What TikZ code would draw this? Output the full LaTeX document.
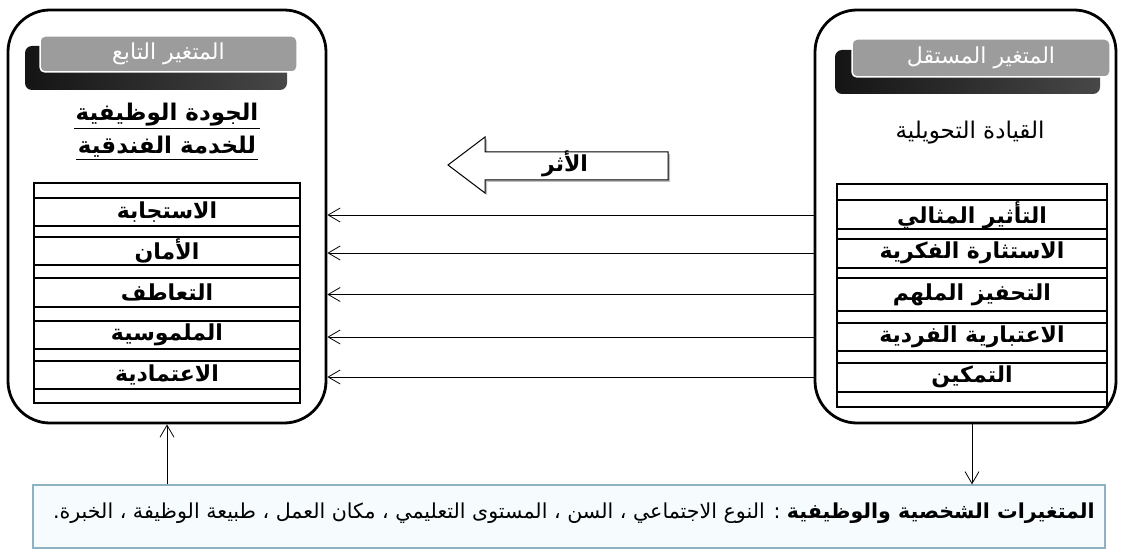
\documentclass[tikz,border=0pt]{standalone}
\usepackage{fontspec}
\usetikzlibrary{arrows.meta,calc}
\TeXXeTstate=1
\newfontfamily\arabicfont[Script=Arabic]{DejaVu Sans}
\definecolor{hdrgray}{HTML}{9C9C9C}
\definecolor{botedge}{HTML}{8FB2C2}
\definecolor{botfill}{HTML}{F6FBFD}
\begin{document}
\begin{tikzpicture}[x=1pt,y=-1pt,
  outerbox/.style={draw=black, line width=2.8pt, rounded corners=42pt, inner sep=0pt},
  hdrshadow/.style={left color=black!92, right color=black!72, rounded corners=7pt},
  hdrbox/.style={fill=hdrgray, draw=white, line width=1.5pt, rounded corners=5pt, inner sep=0pt, text=white, font=\arabicfont\fontsize{22}{26}\selectfont},
  tableframe/.style={draw=black, line width=2.6pt, inner sep=0pt},
  rowline/.style={draw=black, line width=1.1pt},
  rowtext/.style={inner sep=0pt, font=\arabicfont\bfseries\fontsize{22}{26}\selectfont},
  titletext/.style={inner sep=1.5pt, font=\arabicfont\bfseries\fontsize{23}{27}\selectfont},
  plaintitle/.style={inner sep=1.5pt, font=\arabicfont\fontsize{23}{27}\selectfont},
  link/.style={draw=black, line width=0.8pt, -{Straight Barb[length=12pt,width=14pt,line width=0.8pt]}},
  bigarrow/.style={draw=black, fill=white, line width=1pt},
  botbox/.style={draw=botedge, fill=botfill, line width=1.3pt, inner sep=0pt},
  bottext/.style={inner sep=0pt, font=\arabicfont\fontsize{20.6}{24}\selectfont}
]
\useasboundingbox (0,0) rectangle (1123,553);

% outer boxes
\node[outerbox, minimum width=318pt, minimum height=413pt] (L) at (167,216.5) {};
\node[outerbox, minimum width=301pt, minimum height=413pt] (R) at (965.5,216.5) {};

% header shadows and headers
\shade[hdrshadow] (25,46) rectangle (287,90);
\node[hdrbox, minimum width=257pt, minimum height=36pt] (LH) at (168.5,54) {\beginR المتغير التابع\endR};
\shade[hdrshadow] (835,50) rectangle (1100,94);
\node[hdrbox, minimum width=258pt, minimum height=38pt] (RH) at (981,58) {\beginR المتغير المستقل\endR};

% titles
\node[titletext] (LT1) at (167,115) {\beginR الجودة الوظيفية\endR};
\node[titletext] (LT2) at (167,147) {\beginR للخدمة الفندقية\endR};
\draw[line width=0.9pt] (LT1.south west) -- (LT1.south east);
\draw[line width=0.9pt] (LT2.south west) -- (LT2.south east);
\node[plaintitle] (RT) at (970,133) {\beginR القيادة التحويلية\endR};

% left table
\foreach \yy in {198,226,237,265,278,307,321,349,361,389}
  \draw[rowline] (34,\yy) -- (300,\yy);
\node[tableframe, minimum width=266pt, minimum height=220pt] (LTab) at (167,293) {};
\node[rowtext] (l1) at (167,212) {\beginR الاستجابة\endR};
\node[rowtext] (l2) at (167,251) {\beginR الأمان\endR};
\node[rowtext] (l3) at (167,292.5) {\beginR التعاطف\endR};
\node[rowtext] (l4) at (167,335) {\beginR الملموسية\endR};
\node[rowtext] (l5) at (167,375) {\beginR الاعتمادية\endR};

% right table
\foreach \yy in {200,229,239,268,278,311,323,351,363,392}
  \draw[rowline] (837,\yy) -- (1107,\yy);
\node[tableframe, minimum width=270pt, minimum height=223pt] (RTab) at (972,295.5) {};
\node[rowtext] (r1) at (972,215) {\beginR التأثير المثالي\endR};
\node[rowtext] (r2) at (972,253) {\beginR الاستثارة الفكرية\endR};
\node[rowtext] (r3) at (972,294.5) {\beginR التحفيز الملهم\endR};
\node[rowtext] (r4) at (972,337) {\beginR الاعتبارية الفردية\endR};
\node[rowtext] (r5) at (972,377) {\beginR التمكين\endR};

% horizontal links
\foreach \i in {1,...,5}
  \draw[link] (r\i -| R.west) -- (r\i -| L.east);

% big arrow
\fill[black!25] (450,167) -- (487,139) -- (487,154) -- (670,154) -- (670,182) -- (487,182) -- (487,195) -- cycle;
\draw[bigarrow] (448,165) -- (485,137) -- (485,152) -- (668,152) -- (668,180) -- (485,180) -- (485,193) -- cycle;
\node[inner sep=0pt, font=\arabicfont\bfseries\fontsize{22}{26}\selectfont] (eff) at (565,164) {\beginR الأثر\endR};

% bottom box
\node[botbox, minimum width=1072pt, minimum height=63pt] (bot) at (569,516.5) {};
\node[bottext, anchor=east] (bt) at (1095,513) {\beginR{\bfseries المتغيرات الشخصية والوظيفية} : النوع الاجتماعي ، السن ، المستوى التعليمي ، مكان العمل ، طبيعة الوظيفة ، الخبرة.\endR};

% vertical links
\draw[link] (LTab.south |- bot.north) -- (LTab.south |- L.south);
\draw[link] (RTab.south |- R.south) -- (RTab.south |- bot.north);
\end{tikzpicture}
\end{document}
